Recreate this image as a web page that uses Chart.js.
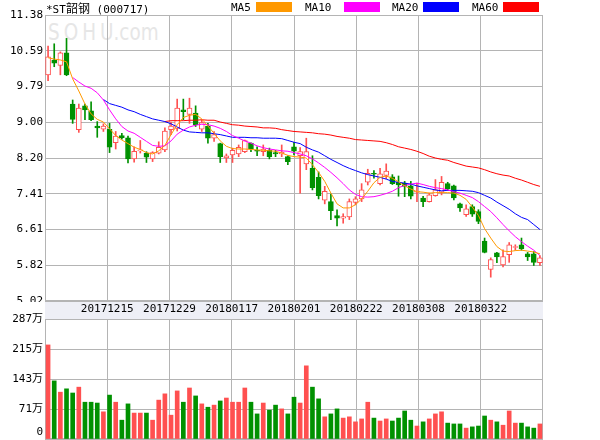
<!DOCTYPE html>
<html>
<head>
<meta charset="utf-8">
<script src="https://cdn.jsdelivr.net/npm/chart.js@4.4.1/dist/chart.umd.min.js"></script>
<style>
  body { margin: 0; background: #fff; }
  #wrap { position: relative; width: 600px; height: 440px; overflow: hidden; }
  #wrap canvas { position: absolute; left: 0; }
  #priceChart { top: 0; }
  #volumeChart { top: 302px; }
  .txt { position: absolute; top: 2px; font: 11px/12px 'DejaVu Sans Mono', 'Noto Sans CJK SC', monospace; color: #000; white-space: nowrap; }
  .txt .cjk { font: 12px/12px 'Noto Sans CJK SC', sans-serif; }
  .swatch { position: absolute; top: 2px; width: 36px; height: 10px; }
  #watermark { position: absolute; left: 48px; top: 19px; font: 23px/26px 'DejaVu Sans', sans-serif; color: #e6e6e6; white-space: nowrap; transform: scaleX(0.8); transform-origin: left top; }
  #watermark span { letter-spacing: 5px; }
</style>
</head>
<body>
<div id="wrap">
  <div id="watermark"><span>SOH</span>U.com</div>
  <canvas id="priceChart" width="600" height="302"></canvas>
  <canvas id="volumeChart" width="600" height="138"></canvas>
  <div class="txt" style="left:46px">*ST<span class="cjk">韶钢</span> (000717)</div>
  <div class="txt" style="left:231px">MA5</div>
  <div class="swatch" style="left:256px;background:#ff9900"></div>
  <div class="txt" style="left:305px">MA10</div>
  <div class="swatch" style="left:344px;background:#ff00ff"></div>
  <div class="txt" style="left:392px">MA20</div>
  <div class="swatch" style="left:423px;background:#0000ff"></div>
  <div class="txt" style="left:472px">MA60</div>
  <div class="swatch" style="left:503px;background:#ff0000"></div>
</div>
<script>
const GRID_COLOR = '#b4b4b4';
const UP_COLOR = '#ff5050';
const DOWN_COLOR = '#009100';
const TICK_FONT = { family: "'DejaVu Sans Mono', 'Noto Sans CJK SC', monospace", size: 11 };

// daily candles
const opens = [
  10.05, 10.38, 10.26, 10.54, 9.40, 8.83, 9.36, 9.25, 8.91, 8.84,
  8.84, 8.54, 8.70, 8.65, 8.18, 8.36, 8.31, 8.18, 8.31, 8.38,
  8.83, 8.86, 9.27, 9.17, 9.20, 8.84, 8.91, 8.64, 8.52, 8.20,
  8.27, 8.29, 8.34, 8.53, 8.37, 8.34, 8.37, 8.32, 8.29, 8.23,
  8.45, 8.25, 8.07, 7.97, 7.77, 7.26, 7.23, 6.92, 6.86, 6.89,
  7.21, 7.29, 7.66, 7.86, 7.63, 7.81, 7.78, 7.66, 7.64, 7.58,
  7.44, 7.31, 7.23, 7.36, 7.44, 7.63, 7.58, 7.18, 6.94, 7.12,
  7.01, 6.35, 5.72, 6.09, 5.82, 6.05, 6.21, 6.27, 6.07, 6.07, 5.87,
];
const closes = [
  10.45, 10.31, 10.54, 10.05, 9.06, 9.31, 9.27, 9.05, 8.87, 8.91,
  8.44, 8.69, 8.65, 8.18, 8.35, 8.38, 8.22, 8.32, 8.44, 8.80,
  8.91, 9.31, 9.23, 9.31, 8.94, 8.99, 8.64, 8.72, 8.23, 8.25,
  8.37, 8.44, 8.59, 8.40, 8.35, 8.40, 8.23, 8.29, 8.33, 8.12,
  8.35, 8.34, 8.34, 7.54, 7.36, 7.46, 7.03, 6.86, 6.90, 7.23,
  7.29, 7.49, 7.86, 7.84, 7.85, 7.91, 7.63, 7.60, 7.57, 7.35,
  7.46, 7.23, 7.38, 7.49, 7.66, 7.51, 7.31, 7.09, 7.07, 6.95,
  6.79, 6.10, 5.94, 6.00, 6.01, 6.27, 6.23, 6.18, 6.00, 5.88, 5.98,
];
const highs = [
  10.69, 10.74, 10.56, 10.86, 9.49, 9.40, 9.40, 9.45, 9.01, 8.96,
  8.97, 8.79, 8.75, 8.69, 8.45, 8.59, 8.34, 8.34, 8.56, 8.87,
  9.00, 9.51, 9.51, 9.53, 9.36, 9.05, 8.97, 8.79, 8.53, 8.29,
  8.42, 8.49, 8.60, 8.54, 8.45, 8.49, 8.42, 8.37, 8.49, 8.25,
  8.55, 8.43, 8.64, 8.25, 7.89, 7.57, 7.40, 7.05, 6.96, 7.29,
  7.34, 7.63, 7.95, 7.92, 7.97, 8.07, 7.83, 7.80, 7.68, 7.68,
  7.64, 7.35, 7.42, 7.72, 7.79, 7.66, 7.60, 7.20, 7.16, 7.16,
  7.05, 6.42, 5.98, 6.10, 6.16, 6.32, 6.27, 6.42, 6.10, 6.12, 6.03,
];
const lows = [
  9.92, 10.23, 10.05, 10.03, 8.97, 8.77, 9.05, 9.03, 8.66, 8.79,
  8.32, 8.40, 8.62, 8.09, 8.11, 8.31, 8.10, 8.12, 8.29, 8.34,
  8.72, 8.80, 9.05, 8.97, 8.90, 8.79, 8.53, 8.57, 8.10, 8.10,
  8.10, 8.23, 8.32, 8.34, 8.25, 8.25, 8.18, 8.23, 8.23, 8.05,
  8.27, 7.42, 7.94, 7.49, 7.29, 7.18, 6.83, 6.69, 6.75, 6.83,
  7.16, 7.23, 7.60, 7.75, 7.60, 7.74, 7.61, 7.35, 7.34, 7.29,
  7.23, 7.12, 7.22, 7.35, 7.38, 7.48, 7.27, 7.01, 6.90, 6.90,
  6.74, 6.09, 5.55, 5.87, 5.78, 5.88, 6.15, 6.15, 5.92, 5.81, 5.81,
];
// volume in 万 shares
const volumes = [
  225, 139, 112, 120, 110, 124, 88, 88, 86, 65,
  105, 88, 45, 84, 62, 62, 62, 45, 93, 108,
  57, 115, 88, 122, 103, 84, 76, 81, 91, 98,
  88, 88, 122, 88, 60, 86, 69, 81, 72, 60,
  100, 86, 175, 124, 96, 53, 60, 72, 50, 53,
  41, 48, 88, 50, 43, 48, 43, 50, 67, 45,
  31, 41, 48, 60, 65, 38, 36, 36, 26, 29,
  31, 55, 45, 41, 33, 67, 38, 38, 29, 26, 36,
];
const ma5 = [
  10.43, 10.40, 10.38, 10.34, 9.96, 9.69, 9.40, 9.18, 9.06, 9.00,
  8.85, 8.70, 8.60, 8.52, 8.44, 8.39, 8.32, 8.29, 8.36, 8.48,
  8.72, 8.94, 9.10, 9.15, 9.17, 9.07, 8.91, 8.75, 8.58, 8.46,
  8.41, 8.40, 8.40, 8.39, 8.38, 8.37, 8.36, 8.35, 8.31, 8.26,
  8.23, 8.22, 8.20, 8.05, 7.88, 7.68, 7.42, 7.18, 7.09, 7.09,
  7.16, 7.29, 7.46, 7.65, 7.77, 7.80, 7.75, 7.67, 7.58, 7.51,
  7.45, 7.44, 7.42, 7.43, 7.43, 7.43, 7.42, 7.37, 7.28, 7.11,
  6.92, 6.63, 6.42, 6.23, 6.13, 6.12, 6.14, 6.15, 6.13, 6.11, 6.07,
];
const ma10 = [
  null, null, null, null, 9.99, 9.89, 9.80, 9.75, 9.65, 9.49,
  9.27, 9.07, 8.90, 8.80, 8.75, 8.66, 8.57, 8.48, 8.46, 8.47,
  8.58, 8.73, 8.82, 8.89, 8.93, 8.95, 8.94, 8.91, 8.86, 8.79,
  8.70, 8.64, 8.58, 8.53, 8.47, 8.43, 8.40, 8.38, 8.36, 8.35,
  8.32, 8.29, 8.25, 8.18, 8.09, 7.99, 7.88, 7.76, 7.63, 7.49,
  7.39, 7.34, 7.33, 7.34, 7.37, 7.41, 7.46, 7.54, 7.59, 7.62,
  7.64, 7.61, 7.57, 7.54, 7.52, 7.49, 7.45, 7.42, 7.37, 7.32,
  7.23, 7.12, 7.01, 6.87, 6.72, 6.58, 6.45, 6.34, 6.24, 6.15, 6.03,
];
const ma20 = [
  null, null, null, null, null, null, null, null, null, 9.50,
  9.41, 9.37, 9.33, 9.27, 9.23, 9.17, 9.12, 9.07, 9.04, 9.01,
  8.96, 8.89, 8.82, 8.78, 8.77, 8.76, 8.76, 8.74, 8.72, 8.69,
  8.66, 8.66, 8.66, 8.65, 8.65, 8.64, 8.64, 8.64, 8.63, 8.59,
  8.55, 8.52, 8.44, 8.38, 8.33, 8.25, 8.17, 8.10, 8.03, 7.97,
  7.92, 7.87, 7.83, 7.80, 7.77, 7.73, 7.68, 7.66, 7.64, 7.62,
  7.58, 7.55, 7.52, 7.49, 7.47, 7.48, 7.48, 7.48, 7.47, 7.46,
  7.43, 7.37, 7.31, 7.22, 7.14, 7.06, 6.96, 6.88, 6.83, 6.72, 6.61,
];
const ma60 = [
  null, null, null, null, null, null, null, null, null, null,
  null, null, null, null, null, null, null, null, null, 9.01,
  9.03, 9.03, 9.03, 9.04, 9.04, 9.05, 9.04, 9.04, 9.00, 8.97,
  8.94, 8.93, 8.91, 8.90, 8.89, 8.87, 8.87, 8.86, 8.83, 8.81,
  8.79, 8.78, 8.77, 8.76, 8.74, 8.73, 8.71, 8.68, 8.66, 8.64,
  8.61, 8.60, 8.59, 8.58, 8.57, 8.54, 8.50, 8.45, 8.42, 8.39,
  8.35, 8.30, 8.24, 8.20, 8.17, 8.15, 8.10, 8.06, 8.02, 8.00,
  7.98, 7.94, 7.89, 7.85, 7.82, 7.80, 7.75, 7.71, 7.66, 7.61, 7.57,
];

const dateLabels = ['20171215', '20171229', '20180117', '20180201', '20180222', '20180308', '20180322'];
const priceTicks = ['5.02', '5.82', '6.61', '7.41', '8.20', '9.00', '9.79', '10.59', '11.38'];
const volumeTicks = ['0', '71万', '143万', '215万', '287万'];

function isUp(i) {
  return closes[i] >= opens[i];
}

function candleColor(i) {
  return isUp(i) ? UP_COLOR : DOWN_COLOR;
}

function toPoints(values) {
  return values.map((v, i) => ({ x: i, y: v }));
}

function evenTicks(min, max, count) {
  const ticks = [];
  for (let k = 0; k < count; k++) ticks.push({ value: min + ((max - min) * k) / (count - 1) });
  return ticks;
}

// vertical grid splits the plot into 8 equal columns
function gridTicks() {
  const n = opens.length;
  const ticks = [];
  for (let k = 1; k < 8; k++) ticks.push({ value: -0.5 + (n * k) / 8 });
  return ticks;
}

const chartFrame = {
  id: 'chartFrame',
  beforeDatasetsDraw(chart) {
    const { ctx, chartArea: a } = chart;
    ctx.save();
    ctx.strokeStyle = GRID_COLOR;
    ctx.lineWidth = 1;
    ctx.strokeRect(Math.round(a.left) + 0.5, Math.round(a.top) + 0.5,
      Math.round(a.right - a.left) - 1, Math.round(a.bottom - a.top) - 1);
    ctx.restore();
  },
};

const dateBand = {
  id: 'dateBand',
  beforeDraw(chart) {
    const { ctx, chartArea: a } = chart;
    ctx.save();
    ctx.fillStyle = '#eeeff6';
    ctx.fillRect(a.left, 0, a.right - a.left, a.top);
    ctx.restore();
  },
};

function xScale(extra) {
  return Object.assign({
    type: 'linear',
    min: -0.5,
    max: opens.length - 0.5,
    offset: false,
    afterBuildTicks: (s) => { s.ticks = gridTicks(); },
    grid: { color: GRID_COLOR, drawTicks: false, offset: false },
    border: { display: false },
  }, extra);
}

function yScale(min, max, labels) {
  return {
    min,
    max,
    afterBuildTicks: (s) => { s.ticks = evenTicks(min, max, labels.length); },
    afterFit: (s) => {
      s.width = 45;
      s.paddingTop = 0;
      s.paddingBottom = 0;
    },
    ticks: {
      // the bottom label of the volume pane sits above its line
      callback: (v, i) => (labels[i] === '0' ? ['0', ''] : labels[i]),
      color: '#000',
      font: TICK_FONT,
      padding: 2,
      autoSkip: false,
    },
    grid: { color: GRID_COLOR, drawTicks: false },
    border: { display: false },
  };
}

function maLine(values, color) {
  return {
    type: 'line',
    data: toPoints(values),
    borderColor: color,
    borderWidth: 1,
    pointRadius: 0,
    tension: 0,
    order: 0,
  };
}

function renderPriceChart() {
  const idx = opens.map((_, i) => i);
  new Chart(document.getElementById('priceChart'), {
    type: 'bar',
    data: {
      datasets: [
        maLine(ma5, '#ff9900'),
        maLine(ma10, '#ff00ff'),
        maLine(ma20, '#0000ff'),
        maLine(ma60, '#ff0000'),
        {
          data: idx.map((i) => ({ x: i, y: [opens[i], closes[i]] })),
          backgroundColor: idx.map((i) => (isUp(i) ? '#ffffff' : DOWN_COLOR)),
          borderColor: idx.map(candleColor),
          borderWidth: 1,
          borderSkipped: false,
          barThickness: 5,
          grouped: false,
          order: 1,
        },
        {
          data: idx.map((i) => ({ x: i, y: [lows[i], highs[i]] })),
          backgroundColor: idx.map(candleColor),
          barThickness: 1,
          grouped: false,
          order: 2,
        },
      ],
    },
    options: {
      responsive: false,
      animation: false,
      events: [],
      layout: { padding: { top: 15, right: 57, bottom: 1, left: 0 } },
      plugins: { legend: { display: false }, tooltip: { enabled: false } },
      scales: {
        x: xScale({ ticks: { display: false }, afterFit: (s) => { s.height = 0; } }),
        y: yScale(5.02, 11.38, priceTicks),
      },
    },
    plugins: [chartFrame],
  });
}

function renderVolumeChart() {
  const idx = volumes.map((_, i) => i);
  new Chart(document.getElementById('volumeChart'), {
    type: 'bar',
    data: {
      datasets: [
        {
          data: toPoints(volumes),
          backgroundColor: idx.map((i) => (isUp(i) ? '#ff5050' : DOWN_COLOR)),
          barThickness: 4,
          grouped: false,
        },
      ],
    },
    options: {
      responsive: false,
      animation: false,
      events: [],
      layout: { padding: { top: 0, right: 57, bottom: 1, left: 0 } },
      plugins: { legend: { display: false }, tooltip: { enabled: false } },
      scales: {
        x: xScale({
          position: 'top',
          afterFit: (s) => { s.height = 17; },
          ticks: {
            callback: (v, i) => dateLabels[i],
            color: '#000',
            font: TICK_FONT,
            padding: 3,
            maxRotation: 0,
            autoSkip: false,
          },
        }),
        y: yScale(0, 287, volumeTicks),
      },
    },
    plugins: [dateBand, chartFrame],
  });
}

renderPriceChart();
renderVolumeChart();
</script>
</body>
</html>
